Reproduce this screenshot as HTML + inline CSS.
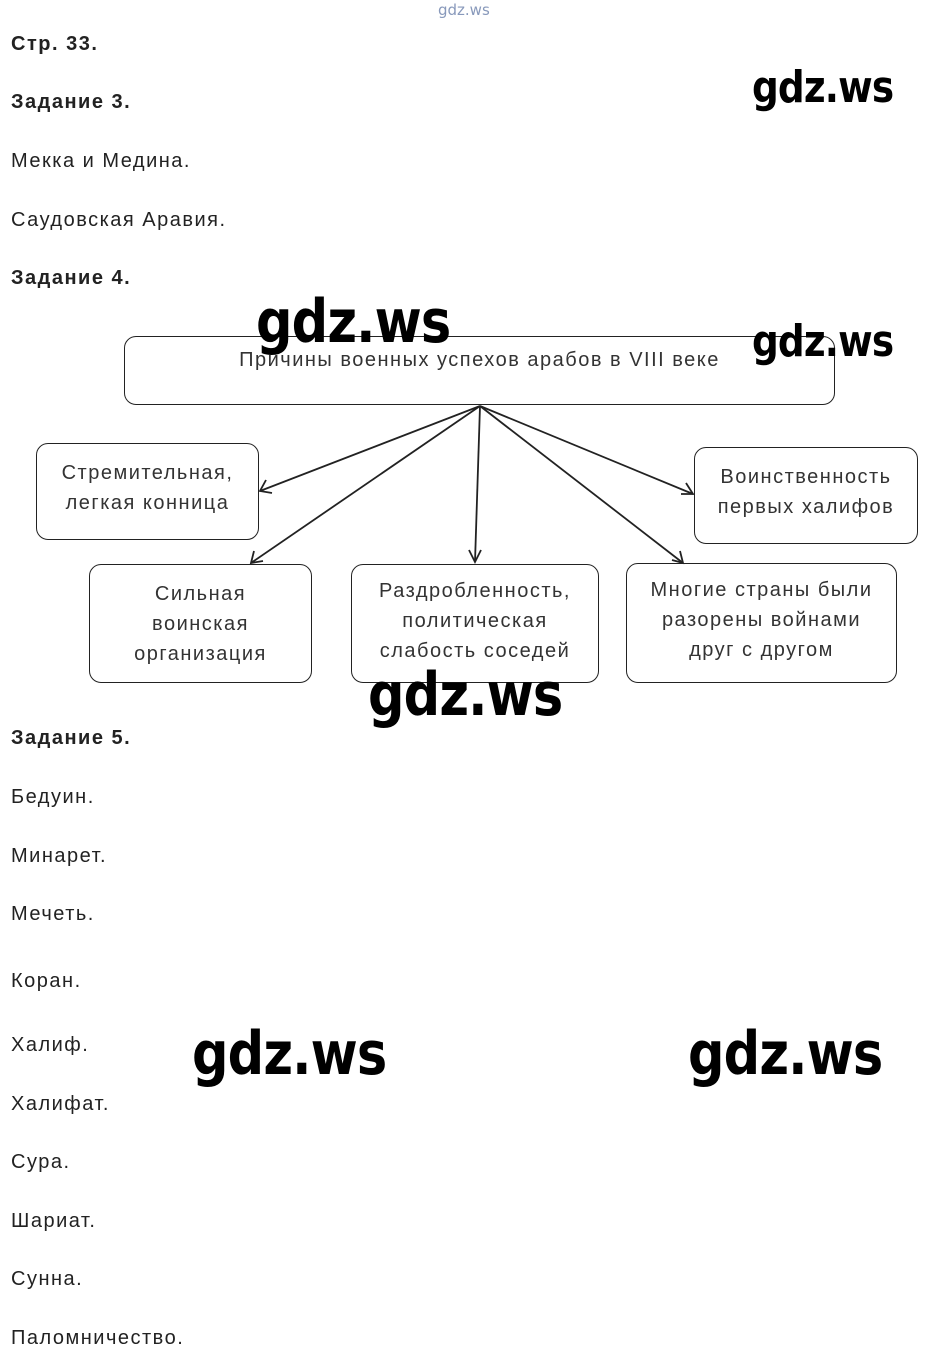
<!DOCTYPE html>
<html><head><meta charset="utf-8"><style>
body{margin:0;width:931px;height:1361px;background:#fff;position:relative;overflow:hidden;font-family:"Liberation Sans",sans-serif;color:#222}
.t{position:absolute;left:11px;font-size:20px;line-height:20px;white-space:nowrap;letter-spacing:1.5px}
.b{font-weight:bold}
.w{position:absolute;font-family:"DejaVu Sans","Liberation Sans",sans-serif;font-weight:bold;color:#000;white-space:nowrap;line-height:1;letter-spacing:-1px;transform:scaleX(0.85);transform-origin:left top}
.bx{position:absolute;border:1.5px solid #222;border-radius:12px;box-sizing:border-box;text-align:center;font-size:20px;line-height:30px;color:#333;display:flex;align-items:center;justify-content:center;letter-spacing:1.5px;white-space:nowrap}
</style></head><body>
<div class="w" style="left:438px;top:3px;font-size:15px;color:#8899bb;letter-spacing:0;font-weight:normal;transform:none">gdz.ws</div>
<div class="t b" style="top:34px">Стр. 33.</div>
<div class="t b" style="top:92px">Задание 3.</div>
<div class="t" style="top:151px">Мекка и Медина.</div>
<div class="t" style="top:210px">Саудовская Аравия.</div>
<div class="t b" style="top:268px">Задание 4.</div>
<div class="t b" style="top:728px">Задание 5.</div>
<div class="t" style="top:787px">Бедуин.</div>
<div class="t" style="top:846px">Минарет.</div>
<div class="t" style="top:904px">Мечеть.</div>
<div class="t" style="top:971px">Коран.</div>
<div class="t" style="top:1035px">Халиф.</div>
<div class="t" style="top:1094px">Халифат.</div>
<div class="t" style="top:1152px">Сура.</div>
<div class="t" style="top:1211px">Шариат.</div>
<div class="t" style="top:1269px">Сунна.</div>
<div class="t" style="top:1328px">Паломничество.</div>

<div class="bx" style="left:124px;top:336px;width:711px;height:69px;align-items:flex-start;padding-top:8px">Причины военных успехов арабов в VIII веке</div>
<div class="bx" style="left:36px;top:443px;width:223px;height:97px;padding-bottom:8px">Стремительная,<br>легкая конница</div>
<div class="bx" style="left:694px;top:447px;width:224px;height:97px;padding-bottom:8px">Воинственность<br>первых халифов</div>
<div class="bx" style="left:89px;top:564px;width:223px;height:119px">Сильная<br>воинская<br>организация</div>
<div class="bx" style="left:351px;top:564px;width:248px;height:119px;padding-bottom:6px">Раздробленность,<br>политическая<br>слабость соседей</div>
<div class="bx" style="left:626px;top:563px;width:271px;height:120px;padding-bottom:6px">Многие страны были<br>разорены войнами<br>друг с другом</div>

<svg width="931" height="1361" style="position:absolute;left:0;top:0" fill="none" stroke="#222" stroke-width="1.8">
<g>
<line x1="480" y1="406" x2="260" y2="491"/>
<line x1="480" y1="406" x2="251" y2="563"/>
<line x1="480" y1="406" x2="475" y2="562"/>
<line x1="480" y1="406" x2="693" y2="494"/>
<line x1="480" y1="406" x2="683" y2="563"/>
<polyline points="266,480 260,491 272,493"/>
<polyline points="254,551 251,563 263,561"/>
<polyline points="469,550 475,562 481,550"/>
<polyline points="681,494 693,494 686,483"/>
<polyline points="672,560 683,563 680,551"/>
</g>
</svg>

<div class="w" style="left:752px;top:66px;font-size:44px">gdz.ws</div>
<div class="w" style="left:256px;top:292px;font-size:60px">gdz.ws</div>
<div class="w" style="left:752px;top:320px;font-size:44px">gdz.ws</div>
<div class="w" style="left:368px;top:665px;font-size:60px">gdz.ws</div>
<div class="w" style="left:192px;top:1024px;font-size:60px">gdz.ws</div>
<div class="w" style="left:688px;top:1024px;font-size:60px">gdz.ws</div>
</body></html>
